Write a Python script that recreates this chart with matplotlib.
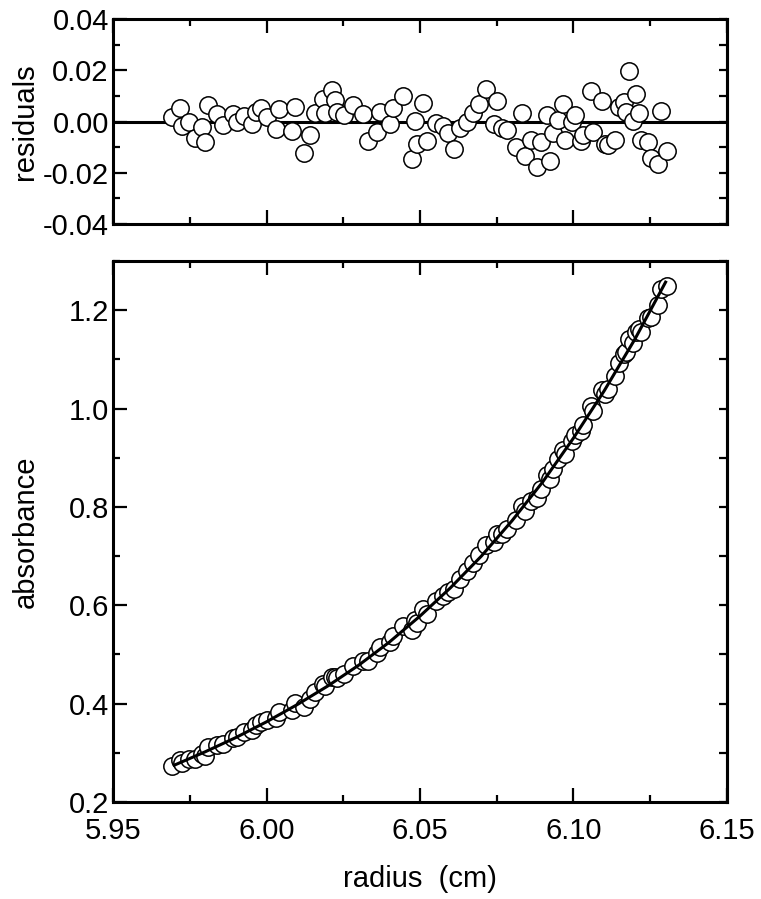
#Sedimentation equilibrium scan: absorbance vs radius with fit and residuals

import numpy as np
import matplotlib.pyplot as plt
from matplotlib.ticker import MultipleLocator, FormatStrFormatter

plt.rcParams['font.family'] = ['Liberation Sans', 'DejaVu Sans']

# radius (cm) of each data point
radius = [5.9691, 5.9718, 5.9724, 5.9749, 5.9767, 5.9789, 5.9800, 5.9810, 5.9838, 5.9859,
          5.9890, 5.9905, 5.9927, 5.9952, 5.9966, 5.9981, 6.0003, 6.0030, 6.0042, 6.0082,
          6.0093, 6.0122, 6.0142, 6.0158, 6.0185, 6.0191, 6.0214, 6.0223, 6.0231, 6.0252,
          6.0281, 6.0313, 6.0332, 6.0361, 6.0370, 6.0402, 6.0413, 6.0444, 6.0473, 6.0484,
          6.0489, 6.0511, 6.0522, 6.0552, 6.0574, 6.0592, 6.0612, 6.0630, 6.0652, 6.0672,
          6.0693, 6.0714, 6.0741, 6.0752, 6.0766, 6.0782, 6.0813, 6.0833, 6.0842, 6.0861,
          6.0882, 6.0893, 6.0913, 6.0923, 6.0934, 6.0951, 6.0965, 6.0972, 6.0994, 6.1005,
          6.1023, 6.1032, 6.1056, 6.1062, 6.1093, 6.1103, 6.1113, 6.1135, 6.1149, 6.1164,
          6.1171, 6.1182, 6.1193, 6.1204, 6.1214, 6.1219, 6.1244, 6.1251, 6.1274, 6.1284,
          6.1304]

residuals = [0.0017, 0.0052, -0.0016, -0.0003, -0.0066, -0.0022, -0.0079, 0.0066, 0.0030, -0.0013,
             0.0030, -0.0003, 0.0021, -0.0009, 0.0037, 0.0052, 0.0017, -0.0031, 0.0050, -0.0035,
             0.0056, -0.0123, -0.0052, 0.0034, 0.0087, 0.0034, 0.0122, 0.0083, 0.0037, 0.0026,
             0.0066, 0.0030, -0.0075, -0.0042, 0.0039, -0.0009, 0.0052, 0.0100, -0.0147, 0.0004,
             -0.0088, 0.0073, -0.0075, -0.0007, -0.0016, -0.0046, -0.0108, -0.0026, -0.0003, 0.0033,
             0.0068, 0.0127, -0.0010, 0.0079, -0.0024, -0.0033, -0.0098, 0.0033, -0.0134, -0.0072,
             -0.0177, -0.0081, 0.0024, -0.0154, -0.0046, 0.0007, 0.0068, -0.0072, -0.0003, 0.0024,
             -0.0076, -0.0052, 0.0121, -0.0042, 0.0079, -0.0089, -0.0092, -0.0072, 0.0055, 0.0076,
             0.0037, 0.0197, 0.0003, 0.0108, 0.0033, -0.0072, -0.0081, -0.0144, -0.0164, 0.0042,
             -0.0115]

absorbance = [0.274, 0.285, 0.280, 0.288, 0.287, 0.297, 0.294, 0.312, 0.316, 0.318,
              0.331, 0.332, 0.342, 0.347, 0.356, 0.362, 0.366, 0.370, 0.383, 0.388,
              0.401, 0.394, 0.409, 0.423, 0.439, 0.436, 0.454, 0.454, 0.453, 0.460,
              0.477, 0.487, 0.486, 0.502, 0.515, 0.525, 0.537, 0.558, 0.549, 0.570,
              0.563, 0.592, 0.583, 0.608, 0.619, 0.627, 0.633, 0.653, 0.669, 0.685,
              0.702, 0.723, 0.729, 0.745, 0.745, 0.756, 0.773, 0.801, 0.792, 0.813,
              0.819, 0.837, 0.865, 0.856, 0.877, 0.897, 0.916, 0.908, 0.934, 0.947,
              0.955, 0.966, 1.006, 0.995, 1.037, 1.030, 1.040, 1.066, 1.093, 1.111,
              1.114, 1.142, 1.134, 1.156, 1.161, 1.156, 1.184, 1.186, 1.210, 1.243,
              1.250]

# fitted curve
fit_radius = [5.97, 5.98, 5.99, 6.00, 6.01, 6.02, 6.03, 6.04, 6.05,
              6.06, 6.07, 6.08, 6.09, 6.10, 6.11, 6.12, 6.13]
fit_absorbance = [0.275, 0.302, 0.331, 0.363, 0.398, 0.436, 0.478, 0.525, 0.578,
                  0.636, 0.700, 0.772, 0.851, 0.940, 1.036, 1.141, 1.257]

FS = 21

fig = plt.figure(figsize=(7.61, 8.99), dpi=100)
ax1 = fig.add_axes([0.1485, 0.7508, 0.8068, 0.2280])
ax2 = fig.add_axes([0.1485, 0.1079, 0.8068, 0.6018])

marker_kw = dict(marker='o', linestyle='none', markersize=12.5,
                 markerfacecolor='white', markeredgecolor='k', markeredgewidth=1.1)

ax1.axhline(0, color='k', linewidth=2.2, zorder=1)
ax1.plot(radius, residuals, zorder=2, **marker_kw)
ax1.set_xlim(5.95, 6.15)
ax1.set_ylim(-0.04, 0.04)
ax1.yaxis.set_major_locator(MultipleLocator(0.02))
ax1.yaxis.set_minor_locator(MultipleLocator(0.01))
ax1.yaxis.set_major_formatter(FormatStrFormatter('%.2f'))
ax1.set_ylabel("residuals", fontsize=FS)
ax1.set_xticklabels([])

ax2.plot(radius, absorbance, zorder=2, **marker_kw)
ax2.plot(fit_radius, fit_absorbance, color='k', linewidth=2.2, zorder=3)
ax2.set_xlim(5.95, 6.15)
ax2.set_ylim(0.2, 1.3)
ax2.yaxis.set_major_locator(MultipleLocator(0.2))
ax2.yaxis.set_minor_locator(MultipleLocator(0.1))
ax2.yaxis.set_major_formatter(FormatStrFormatter('%.1f'))
ax2.set_ylabel("absorbance", fontsize=FS)
ax2.set_xlabel("radius  (cm)", fontsize=FS, labelpad=14)
ax2.xaxis.set_major_formatter(FormatStrFormatter('%.2f'))

for ax, step in ((ax1, 0.01), (ax2, 0.1)):
    ax.xaxis.set_major_locator(MultipleLocator(0.05))
    ax.xaxis.set_minor_locator(MultipleLocator(0.025))
    ax.tick_params(which='both', direction='in', top=True, right=False,
                   labelsize=FS, width=1.6)
    ax.tick_params(axis='y', which='major', length=10, pad=3)
    ax.tick_params(axis='x', which='major', length=10, pad=11)
    ax.tick_params(which='minor', length=5)
    for s in ax.spines.values():
        s.set_linewidth(2.2)
    # right side: short ticks at every step, no labels
    sec = ax.secondary_yaxis('right')
    sec.yaxis.set_major_locator(MultipleLocator(step))
    sec.tick_params(direction='in', length=6, width=1.6, labelright=False)
    sec.spines['right'].set_linewidth(2.2)
    ax.yaxis.set_label_coords(-0.12, 0.5)

plt.savefig('out.png', dpi=100)
